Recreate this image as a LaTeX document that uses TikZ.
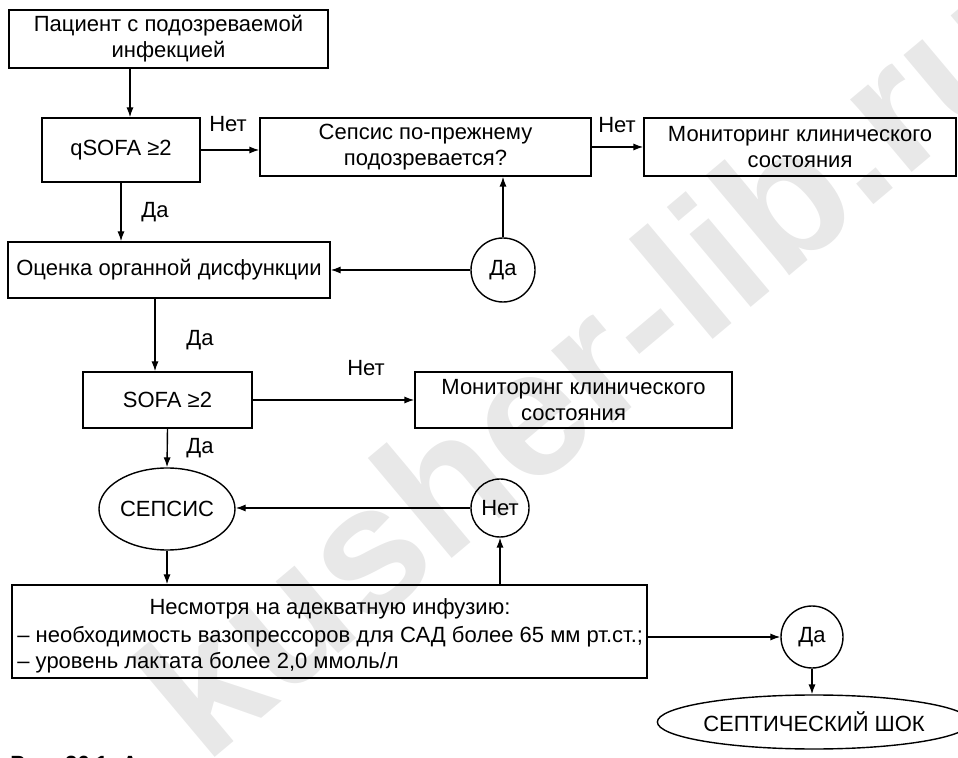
\documentclass[tikz,border=0pt]{standalone}
\usepackage{fontspec}
\setmainfont{Liberation Sans}
\usetikzlibrary{arrows.meta,shapes.geometric}

\begin{document}
\begin{tikzpicture}[x=0.5pt,y=-0.5pt,
  txt/.style={font=\fontsize{11}{13}\selectfont, inner sep=0pt, align=center},
  box/.style={txt, draw, line width=0.7pt, rectangle},
  oval/.style={txt, draw, line width=0.7pt, ellipse},
  ring/.style={txt, draw, line width=0.7pt, circle},
  arr/.style={line width=0.7pt, -{Latex[length=5pt,width=3.6pt]}},
  lbl/.style={txt},
  wmark/.style={font=\bfseries\fontsize{90}{90}\selectfont, text=black!9, inner sep=0pt}
]
\useasboundingbox (0,0) rectangle (958,758);
\clip (0,0) rectangle (958,758);

% site mark in the background
\node[wmark, rotate=40, anchor=base west] (mark) at (205,766) {kusher-lib.ru};

% boxes and decisions
\node[box, minimum width=159.5pt, minimum height=29pt] (patient) at (168.5,39)
  {Пациент с подозреваемой\\инфекцией};
\node[box, minimum width=79pt, minimum height=32pt] (qsofa) at (121,150) {qSOFA ≥2};
\node[box, minimum width=165.5pt, minimum height=29pt] (still) at (425.5,147)
  {Сепсис по-прежнему\\подозревается?};
\node[box, minimum width=156pt, minimum height=29pt] (monA) at (800,147)
  {Мониторинг клинического\\состояния};
\node[box, minimum width=161pt, minimum height=28pt] (organ) at (169,270)
  {Оценка органной дисфункции};
\node[ring, minimum size=32pt] (yesA) at (503,270) {Да};
\node[box, minimum width=84.5pt, minimum height=28pt] (sofa) at (167.5,400) {SOFA ≥2};
\node[box, minimum width=158.5pt, minimum height=28pt] (monB) at (573.5,400)
  {Мониторинг клинического\\состояния};
\node[oval, minimum width=68pt, minimum height=41pt] (sepsis) at (167,509) {СЕПСИС};
\node[ring, minimum size=29pt] (noA) at (500,508) {Нет};
\node[box, minimum width=317.5pt, minimum height=46.5pt] (crit) at (329.5,631.5) {};
\node[txt, anchor=base] (critA) at (330,614) {Несмотря на адекватную инфузию:};
\node[txt, anchor=base west] (critB) at (17,642)
  {– необходимость вазопрессоров для САД более 65 мм рт.ст.;};
\node[txt, anchor=base west] (critC) at (17,668) {– уровень лактата более 2,0 ммоль/л};
\node[ring, minimum size=31pt] (yesB) at (812,637) {Да};
\node[oval, minimum width=147pt, minimum height=27pt] (shock) at (814,722)
  {СЕПТИЧЕСКИЙ ШОК};

% free ends of vertical connectors
\coordinate (colA) at (130,0);
\coordinate (colB) at (155,0);

% connectors
\draw[arr] (patient.south -| colA) -- (qsofa.north -| colA);
\draw[arr] (qsofa.east) -- (qsofa.east -| still.west);
\draw[arr] (still.east) -- (still.east -| monA.west);
\draw[arr] (qsofa.south) -- (qsofa.south |- organ.north);
\draw[arr] (yesA.north) -- (yesA.north |- still.south);
\draw[arr] (yesA.west) -- (yesA.west -| organ.east);
\draw[arr] (organ.south -| colB) -- (sofa.north -| colB);
\draw[arr] (sofa.east) -- (sofa.east -| monB.west);
\draw[arr] (sofa.south) -- (sepsis.north);
\draw[arr] (noA.west) -- (noA.west -| sepsis.east);
\draw[arr] (sepsis.south) -- (sepsis.south |- crit.north);
\draw[arr] (crit.north -| noA.south) -- (noA.south);
\draw[arr] (crit.east |- yesB.west) -- (yesB.west);
\draw[arr] (yesB.south) -- (yesB.south |- shock.north);

% branch labels
\node[lbl] (noLblA) at (228,124) {Нет};
\node[lbl] (noLblB) at (617,125) {Нет};
\node[lbl] (yesLblA) at (155,212) {Да};
\node[lbl] (yesLblB) at (200,340) {Да};
\node[lbl] (noLblC) at (366,368) {Нет};
\node[lbl] (yesLblC) at (200,448) {Да};

% figure caption, cut by the lower edge
\node[txt, font=\bfseries\fontsize{11}{13}\selectfont, anchor=base west] (caption) at (10,771)
  {Рис. 26.1. А};
\end{tikzpicture}
\end{document}
